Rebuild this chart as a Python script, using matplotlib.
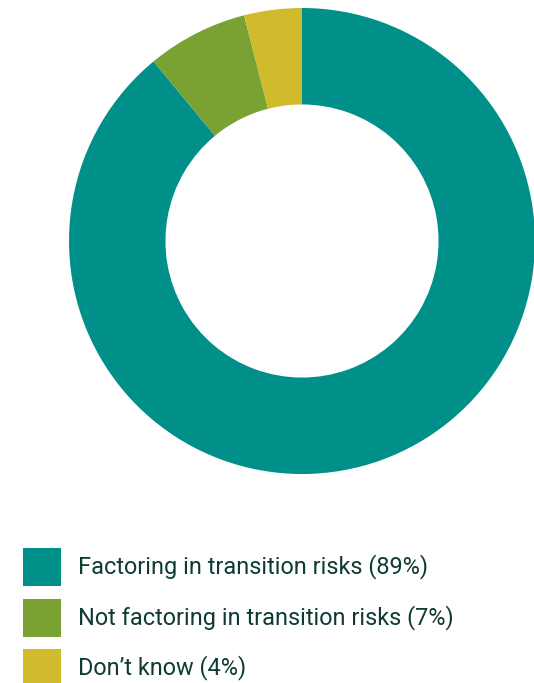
import matplotlib.pyplot as plt
from matplotlib.patches import Rectangle

plt.rcParams['font.family'] = ['Roboto', 'DejaVu Sans']

labels = ['Factoring in transition risks', 'Not factoring in transition risks', 'Don\u2019t know']
shares = [89, 7, 4]
colors = ['#009089', '#79A232', '#CFBB2C']
text_color = '#0E3B33'

W, H = 534, 683
fig = plt.figure(figsize=(W / 100, H / 100), dpi=100)

# donut: centre (302, 241) px from top-left, outer radius 233 px
cx, cy, r = 302, 241, 233
ax = fig.add_axes([(cx - r) / W, (H - cy - r) / H, 2 * r / W, 2 * r / H])
ax.pie(shares, colors=colors, startangle=90, counterclock=False,
       wedgeprops=dict(width=0.414, linewidth=0), radius=1)
ax.set_xlim(-1, 1)
ax.set_ylim(-1, 1)
ax.set_aspect('equal')
ax.axis('off')

# legend drawn in pixel coordinates (y from top)
lax = fig.add_axes([0, 0, 1, 1])
lax.set_xlim(0, W)
lax.set_ylim(H, 0)
lax.axis('off')
row_top = [548, 599, 649]
for top, lab, val, col in zip(row_top, labels, shares, colors):
    lax.add_patch(Rectangle((23, top), 38, 38, facecolor=col, edgecolor='none'))
    lax.text(78, top + 19, f'{lab} ({val}%)', va='center', ha='left',
             fontsize=16.9, color=text_color)

fig.savefig('out.png', dpi=100)
